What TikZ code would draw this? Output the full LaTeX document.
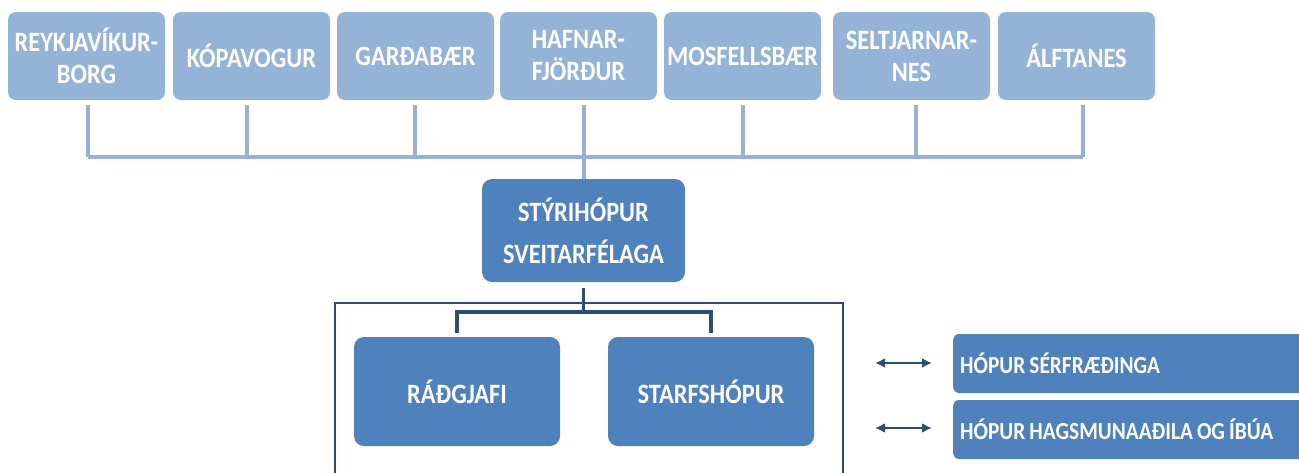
\documentclass[tikz,border=0pt]{standalone}
\usepackage{fontspec}
\setmainfont{Carlito}[FakeStretch=0.87]
\usetikzlibrary{arrows.meta}
\definecolor{lightbox}{HTML}{95B3D7}
\definecolor{midbox}{HTML}{4F81BD}
\definecolor{darkline}{HTML}{2A4D7A}
\newcommand{\wsp}{\hspace{0.17em}}
\tikzset{
  topbox/.style={fill=lightbox, draw=none, rounded corners=8pt, minimum width=157pt, minimum height=88pt,
     text=white, font=\fontsize{28}{32}\selectfont\bfseries, align=center, inner sep=0pt},
  midnode/.style={fill=midbox, draw=none, rounded corners=10pt, text=white,
     font=\fontsize{28}{32}\selectfont\bfseries, align=center, inner sep=0pt},
  sidebox/.style={fill=midbox, draw=none, rounded corners=6pt, text=white, minimum height=59pt,
     text width=353pt, align=left, inner xsep=7pt, inner ysep=0pt,
     font=\fontsize{24.5}{28}\selectfont\bfseries},
  lightline/.style={draw=lightbox, line width=4pt},
  darkconn/.style={draw=darkline, line width=3.5pt},
  twoway/.style={draw=darkline, line width=2pt, {Latex[length=10pt,width=10pt]}-{Latex[length=10pt,width=10pt]}},
}
\begin{document}
\begin{tikzpicture}[x=1pt,y=-1pt]
\useasboundingbox (0,0) rectangle (1299,472);
\fill[white] (0,0) rectangle (1299,472);
% top row
\node[topbox] (b1) at (86.5,56) {REYKJAVÍKUR-\\BORG};
\node[topbox] (b2) at (251.5,56) {KÓPAVOGUR};
\node[topbox] (b3) at (415.5,56) {GARÐABÆR};
\node[topbox] (b4) at (578.5,56) {HAFNAR-\\FJÖRÐUR};
\node[topbox] (b5) at (742.5,56) {MOSFELLSBÆR};
\node[topbox] (b6) at (911.5,56) {SELTJARNAR-\\NES};
\node[topbox] (b7) at (1076.5,56) {ÁLFTANES};
% steering group
\node[midnode, minimum width=203pt, minimum height=103pt] (sty) at (583.5,230.5) {STÝRIHÓPUR\\[10pt]SVEITARFÉLAGA};
% bus
\coordinate (busL) at (88,157);
\coordinate (busR) at (1083,157);
\draw[lightline] (busL) -- (busR);
\foreach \b/\x in {b1/88,b2/247,b3/415,b5/743,b6/916,b7/1083}{
  \draw[lightline, shorten <=5pt] (\b.south -| \x,0) -- (\x,157);
}
\draw[lightline, shorten <=5pt] (b4.south -| sty.north) -- (sty.north);
% frame
\draw[draw=darkline, line width=2.8pt] (335,480) -- (335,303) -- (843,303) -- (843,480);
% inner boxes
\node[midnode, minimum width=206pt, minimum height=109pt] (rad) at (457,391.5) {RÁÐGJAFI};
\node[midnode, minimum width=206pt, minimum height=109pt] (sta) at (711,391.5) {STARFSHÓPUR};
\coordinate (split) at (583.5,312);
\draw[darkconn, shorten <=6pt] (sty.south) -- (split);
\draw[darkconn, shorten >=4pt] (split) -| (rad.north);
\draw[darkconn, shorten >=4pt] (split) -| (sta.north);
% side boxes
\node[sidebox, anchor=west] (h1) at (953,363.5) {HÓPUR\wsp SÉRFRÆÐINGA};
\node[sidebox, anchor=west] (h2) at (953,429.5) {HÓPUR\wsp HAGSMUNAAÐILA\wsp OG\wsp ÍBÚA};
\coordinate (a1) at (875,363);
\coordinate (a2) at (875,428);
\draw[twoway, shorten >=21pt] (a1) -- (h1.west |- a1);
\draw[twoway, shorten >=21pt] (a2) -- (h2.west |- a2);
\end{tikzpicture}
\end{document}
